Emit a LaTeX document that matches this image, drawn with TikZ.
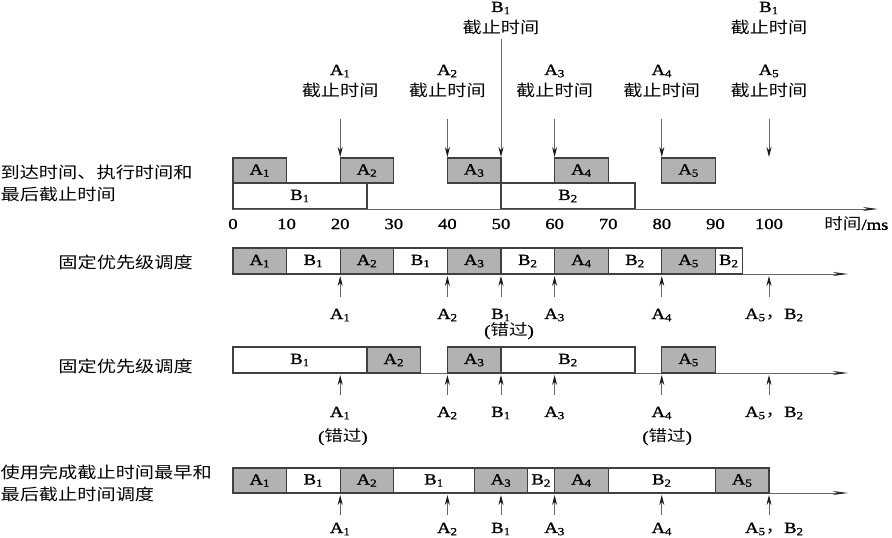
\documentclass[tikz,border=0pt]{standalone}
\usepackage{fontspec}
\setmainfont[FakeStretch=1.2,FakeBold=1.2]{Liberation Serif}
\newfontfamily\cjk[FakeStretch=1.2]{Noto Sans CJK SC}
\usetikzlibrary{arrows.meta}

\newcommand\tk[2]{#1\textsubscript{#2}}

\tikzset{
  tA/.style={draw=black!75, fill=black!30, line width=1.3pt},
  tB/.style={draw=black!75, fill=white, line width=1.3pt},
  axis/.style={draw=black!60, line width=0.8pt, -{Stealth[length=15pt,width=4pt,black!85]}},
  dl/.style={draw=black!60, line width=0.9pt, -{Stealth[length=10pt,width=5pt,black!90]}},
  lbl/.style={font=\fontsize{15.5}{17}\selectfont, inner sep=1pt},
  zh/.style={font=\cjk\fontsize{16}{22}\selectfont, inner sep=0pt},
}

\begin{document}
\begin{tikzpicture}[x=5.36pt, y=-1pt]
\useasboundingbox (-43.47,0) rectangle (122.95,538);

% arrival, execution time and deadlines
\node[zh, align=left, anchor=west] (lab1) at (-43.4,183) {到达时间、执行时间和\\最后截止时间};
\foreach \t/\n in {20/1,40/2,60/3,80/4,100/5}{
  \node[lbl] (dA\n) at (\t,71) {\tk A\n};
  \node[zh] (dzA\n) at (\t,90) {截止时间};
  \coordinate (hA\n) at (\t,157);
  \draw[dl] ([yshift=-21pt]dzA\n.south) -- (hA\n);
}
\node[lbl] (dB1) at (50,8) {\tk B1};
\node[zh] (dzB1) at (50,27) {截止时间};
\node[lbl] (dB2) at (100,8) {\tk B1};
\node[zh] (dzB2) at (100,27) {截止时间};
\coordinate (hB1) at (50,157);
\coordinate (oB1) at (50,209);
\draw[dl] ([yshift=-4pt]dzB1.south) -- (hB1);
\draw[draw=black!70, line width=0.9pt] (hB1) -- (oB1);

\draw[tB] (0,183) rectangle (25,209);
\node[lbl] at (12.5,196) {\tk B1};
\draw[tB] (50,183) rectangle (75,209);
\node[lbl] at (62.5,196) {\tk B2};
\foreach \s/\n in {0/1,20/2,40/3,60/4,80/5}{
  \draw[tA] (\s,158) rectangle ++(10,25);
  \node[lbl] at (\s+5,170.5) {\tk A\n};
}
\coordinate (ax1) at (0,209);
\coordinate (ax1e) at (120.3,209);
\draw[axis] (ax1) -- (ax1e);
\foreach \v in {0,10,...,100}
  \node[lbl] (tick\v) at (\v,224) {\v};
\node[lbl] (unit) at (116.3,224) {{\cjk 时间}/ms};

% fixed priority, first
\node[zh, anchor=east] (lab2) at (-7.46,262) {固定优先级调度};
\coordinate (ax2) at (0,274);
\coordinate (ax2e) at (114.7,274);
\draw[axis] (ax2) -- (ax2e);
\foreach \s/\e/\t/\n/\k in {0/10/A/1/tA,10/20/B/1/tB,20/30/A/2/tA,30/40/B/1/tB,40/50/A/3/tA,
    50/60/B/2/tB,60/70/A/4/tA,70/80/B/2/tB,80/90/A/5/tA,90/95/B/2/tB}{
  \draw[\k] (\s,248) rectangle (\e,274);
  \node[lbl] at ({(\s+\e)/2},261) {\tk\t\n};
}
\foreach \t/\l in {20/\tk A1,40/\tk A2,50/\tk B1,60/\tk A3,80/\tk A4}{
  \coordinate (u2-\t) at (\t,276);
  \node[lbl] (l2-\t) at (\t,315) {\l};
  \draw[dl] ([yshift=11pt]l2-\t.north) -- (u2-\t);
}
\coordinate (u2-100) at (100,276);
\coordinate (s2-100) at (100,297);
\node[lbl] (l2-100) at (101,315) {\tk A5{\cjk ，}\tk B2};
\draw[dl] (s2-100) -- (u2-100);
\node[lbl] (m2) at (51.5,331) {({\cjk 错过})};

% fixed priority, second
\node[zh, anchor=east] (lab3) at (-7.46,366) {固定优先级调度};
\coordinate (ax3) at (0,373);
\coordinate (ax3e) at (114.7,373);
\draw[axis] (ax3) -- (ax3e);
\foreach \s/\e/\t/\n/\k in {0/25/B/1/tB,25/35/A/2/tA,40/50/A/3/tA,50/75/B/2/tB,80/90/A/5/tA}{
  \draw[\k] (\s,347) rectangle (\e,373);
  \node[lbl] at ({(\s+\e)/2},360) {\tk\t\n};
}
\foreach \t/\l in {20/\tk A1,40/\tk A2,50/\tk B1,60/\tk A3,80/\tk A4}{
  \coordinate (u3-\t) at (\t,375);
  \node[lbl] (l3-\t) at (\t,413) {\l};
  \draw[dl] ([yshift=11pt]l3-\t.north) -- (u3-\t);
}
\coordinate (u3-100) at (100,375);
\coordinate (s3-100) at (100,395);
\node[lbl] (l3-100) at (101,413) {\tk A5{\cjk ，}\tk B2};
\draw[dl] (s3-100) -- (u3-100);
\node[lbl] (m3a) at (20.5,437) {({\cjk 错过})};
\node[lbl] (m3b) at (81,437) {({\cjk 错过})};

% earliest deadline first
\node[zh, align=left, anchor=west] (lab4) at (-43.4,483) {使用完成截止时间最早和\\最后截止时间调度};
\coordinate (ax4) at (0,493);
\coordinate (ax4e) at (114.7,493);
\draw[axis] (ax4) -- (ax4e);
\foreach \s/\e/\t/\n/\k in {0/10/A/1/tA,10/20/B/1/tB,20/30/A/2/tA,30/45/B/1/tB,45/55/A/3/tA,
    55/60/B/2/tB,60/70/A/4/tA,70/90/B/2/tB,90/100/A/5/tA}{
  \draw[\k] (\s,468) rectangle (\e,493);
  \node[lbl] at ({(\s+\e)/2},480.5) {\tk\t\n};
}
\foreach \t/\l in {20/\tk A1,40/\tk A2,50/\tk B1,60/\tk A3,80/\tk A4}{
  \coordinate (u4-\t) at (\t,495);
  \node[lbl] (l4-\t) at (\t,529) {\l};
  \draw[dl] ([yshift=7pt]l4-\t.north) -- (u4-\t);
}
\coordinate (u4-100) at (100,495);
\coordinate (s4-100) at (100,515);
\node[lbl] (l4-100) at (101,529) {\tk A5{\cjk ，}\tk B2};
\draw[dl] (s4-100) -- (u4-100);
\end{tikzpicture}
\end{document}
